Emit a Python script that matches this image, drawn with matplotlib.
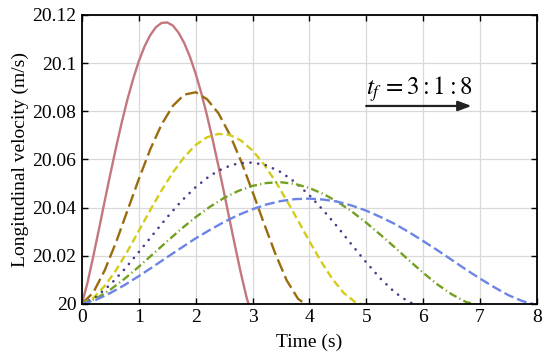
import matplotlib
matplotlib.use("Agg")
import matplotlib.pyplot as plt

# time grids (s) and velocities (m/s), tf = 3:1:8
t3 = [0.0, 0.1, 0.2, 0.3, 0.4, 0.5, 0.6, 0.7, 0.8, 0.9, 1.0, 1.1, 1.2, 1.3, 1.4, 1.5,
      1.6, 1.7, 1.8, 1.9, 2.0, 2.1, 2.2, 2.3, 2.4, 2.5, 2.6, 2.7, 2.8, 2.9, 2.93]
v3 = [20.0, 20.0090, 20.0198, 20.0311, 20.0427, 20.0540, 20.0650, 20.0754, 20.0849,
      20.0934, 20.1008, 20.1069, 20.1116, 20.1149, 20.1167, 20.1169, 20.1156, 20.1126,
      20.1083, 20.1026, 20.0956, 20.0875, 20.0782, 20.0681, 20.0573, 20.0461, 20.0346,
      20.0232, 20.0122, 20.0022, 20.0]

t4 = [0.0, 0.2, 0.4, 0.6, 0.8, 1.0, 1.2, 1.4, 1.6, 1.8, 2.0, 2.2, 2.4, 2.6, 2.8, 3.0,
      3.2, 3.4, 3.6, 3.8, 3.92]
v4 = [20.0, 20.0047, 20.0139, 20.0256, 20.0387, 20.0518, 20.0641, 20.0745, 20.0823,
      20.0869, 20.0879, 20.0850, 20.0792, 20.0703, 20.0592, 20.0466, 20.0335, 20.0209,
      20.0098, 20.0021, 20.0]

t5 = [0.0, 0.2, 0.4, 0.6, 0.8, 1.0, 1.2, 1.4, 1.6, 1.8, 2.0, 2.2, 2.4, 2.6, 2.8, 3.0,
      3.2, 3.4, 3.6, 3.8, 4.0, 4.2, 4.4, 4.6, 4.8, 4.9]
v5 = [20.0, 20.0024, 20.0074, 20.0140, 20.0218, 20.0303, 20.0389, 20.0471, 20.0546,
      20.0610, 20.0660, 20.0692, 20.0706, 20.0702, 20.0678, 20.0637, 20.0580, 20.0510,
      20.0430, 20.0346, 20.0260, 20.0178, 20.0105, 20.0046, 20.0008, 20.0]

t6 = [0.0, 0.25, 0.5, 0.75, 1.0, 1.25, 1.5, 1.75, 2.0, 2.25, 2.5, 2.75, 3.0, 3.25, 3.5,
      3.75, 4.0, 4.25, 4.5, 4.75, 5.0, 5.25, 5.5, 5.75, 5.85]
v6 = [20.0, 20.0029, 20.0080, 20.0144, 20.0215, 20.0288, 20.0360, 20.0427, 20.0485,
      20.0532, 20.0565, 20.0584, 20.0587, 20.0575, 20.0547, 20.0505, 20.0451, 20.0387,
      20.0318, 20.0244, 20.0172, 20.0105, 20.0048, 20.0007, 20.0]

t7 = [0.0, 0.25, 0.5, 0.75, 1.0, 1.25, 1.5, 1.75, 2.0, 2.25, 2.5, 2.75, 3.0, 3.25, 3.5,
      3.75, 4.0, 4.25, 4.5, 4.75, 5.0, 5.25, 5.5, 5.75, 6.0, 6.25, 6.5, 6.75, 6.88]
v7 = [20.0, 20.0022, 20.0059, 20.0104, 20.0154, 20.0207, 20.0260, 20.0312, 20.0360,
      20.0403, 20.0440, 20.0469, 20.0490, 20.0502, 20.0505, 20.0498, 20.0481, 20.0456,
      20.0423, 20.0383, 20.0337, 20.0287, 20.0235, 20.0181, 20.0129, 20.0081, 20.0040,
      20.0008, 20.0]

t8 = [0.0, 0.25, 0.5, 0.75, 1.0, 1.25, 1.5, 1.75, 2.0, 2.25, 2.5, 2.75, 3.0, 3.25, 3.5,
      3.75, 4.0, 4.25, 4.5, 4.75, 5.0, 5.25, 5.5, 5.75, 6.0, 6.25, 6.5, 6.75, 7.0, 7.25,
      7.5, 7.75, 7.93]
v8 = [20.0, 20.0017, 20.0045, 20.0078, 20.0115, 20.0154, 20.0194, 20.0233, 20.0272,
      20.0307, 20.0340, 20.0369, 20.0393, 20.0413, 20.0427, 20.0435, 20.0437, 20.0433,
      20.0424, 20.0408, 20.0387, 20.0361, 20.0332, 20.0298, 20.0261, 20.0223, 20.0183,
      20.0143, 20.0105, 20.0069, 20.0036, 20.0011, 20.0]

xticks = [0, 1, 2, 3, 4, 5, 6, 7, 8]
yticks = [20.0, 20.02, 20.04, 20.06, 20.08, 20.1, 20.12]
ytick_labels = ['20', '20.02', '20.04', '20.06', '20.08', '20.1', '20.12']

plt.rcParams['font.family'] = ['Liberation Serif', 'DejaVu Serif']
plt.rcParams['mathtext.fontset'] = 'stix'

fig = plt.figure(figsize=(5.5, 3.57), dpi=100)
ax = fig.add_axes([0.149, 0.149, 0.827, 0.809])

lw = 1.7
ax.plot(t3, v3, color='#C4777C', lw=lw, ls='-')
ax.plot(t4, v4, color='#9B6C0E', lw=lw, dashes=(5.6, 2.1))
ax.plot(t5, v5, color='#D3CC1A', lw=lw, dashes=(3.2, 1.7))
ax.plot(t6, v6, color='#4B3A8A', lw=1.9, dashes=(0.05, 2.9), dash_capstyle='round')
ax.plot(t7, v7, color='#74A021', lw=lw, dashes=(3.4, 1.4, 0.5, 1.4))
ax.plot(t8, v8, color='#6B84E6', lw=lw, dashes=(4.2, 1.7))

ax.set_xlim(0, 8)
ax.set_ylim(20.0, 20.12)
ax.set_xticks(xticks)
ax.set_yticks(yticks)
ax.set_yticklabels(ytick_labels)
ax.grid(True, color='#d9d9d9', lw=0.9)
ax.set_axisbelow(True)
ax.tick_params(direction='in', top=True, right=True, labelsize=14, length=4, width=1, pad=4)
for sp in ax.spines.values():
    sp.set_linewidth(1.3)

ax.set_xlabel('Time (s)', fontsize=14, labelpad=5)
ax.set_ylabel('Longitudinal velocity (m/s)', fontsize=14, labelpad=2)

ax.annotate('', xy=(6.9, 20.0822), xytext=(4.95, 20.0822),
            arrowprops=dict(arrowstyle='-|>,head_length=0.8,head_width=0.3', color='#222222', lw=1.6))
ax.text(5.0, 20.0868, r'$t_f\,=3:1:8$', fontsize=18, ha='left', va='baseline')

fig.savefig('out.png', dpi=100)
